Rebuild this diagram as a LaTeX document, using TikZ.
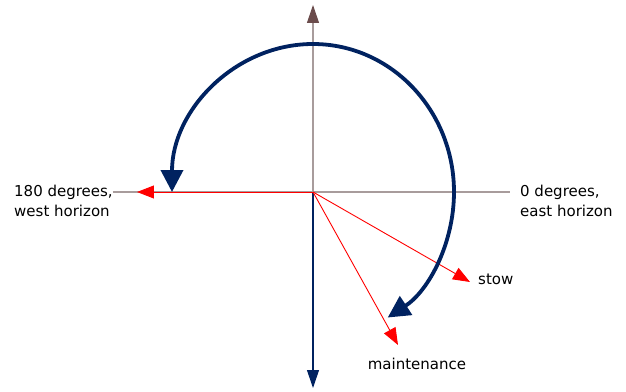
\documentclass[tikz,border=0pt]{standalone}
\usepackage{fontspec}
\setmainfont{DejaVu Sans}
\usetikzlibrary{arrows.meta}
\definecolor{navy}{RGB}{0,34,96}
\definecolor{axisbrown}{RGB}{107,76,76}
\definecolor{axisgrey}{RGB}{168,156,156}
\tikzset{
	label text/.style={font=\fontsize{15}{19.5}\selectfont, inner sep=0pt, align=left},
	red ray/.style={draw=red, line width=0.9pt, -{Triangle[length=17pt,width=13pt]}},
	sweeptip/.tip={Triangle[length=22pt,width=22pt]},
}
\begin{document}
\begin{tikzpicture}[x=1pt, y=1pt]
	\useasboundingbox (-313,-199) rectangle (313,192);
	% Points and labels:
	\coordinate (O) at (0,0);
	\coordinate (N) at (0,187);
	\coordinate (S) at (0,-196);
	\coordinate (Wend) at (-200,0);
	\coordinate (Eend) at (197,0);
	\coordinate (Wtip) at (-176,0);
	\coordinate (stowtip) at (157,-90);
	\coordinate (mainttip) at (85,-153);
	\node[label text, anchor=west] (west) at (-299,-9) {180 degrees,\\west horizon};
	\node[label text, anchor=west] (east) at (207,-9) {0 degrees,\\east horizon};
	\node[label text, anchor=west] (stow) at (165,-87) {stow};
	\node[label text] (maint) at (104,-172) {maintenance};
	% Axes:
	\draw[axisgrey, line width=1.1pt] (Wend) -- (Eend);
	\draw[axisgrey, line width=1.1pt, -{Triangle[length=18pt,width=12pt,color=axisbrown]}] (O) -- (N);
	\draw[navy, line width=1.1pt, -{Triangle[length=18pt,width=12pt]}] (O) -- (S);
	% Rays:
	\draw[red ray] (O) -- (Wtip);
	\draw[red ray] (O) -- (stowtip);
	\draw[red ray] (O) -- (mainttip);
	% Sweep:
	\draw[navy, line width=3.8pt, sweeptip-sweeptip]
		(O) ++(180:141) arc[start angle=180, end angle=-58, x radius=141, y radius=148];
\end{tikzpicture}
\end{document}
